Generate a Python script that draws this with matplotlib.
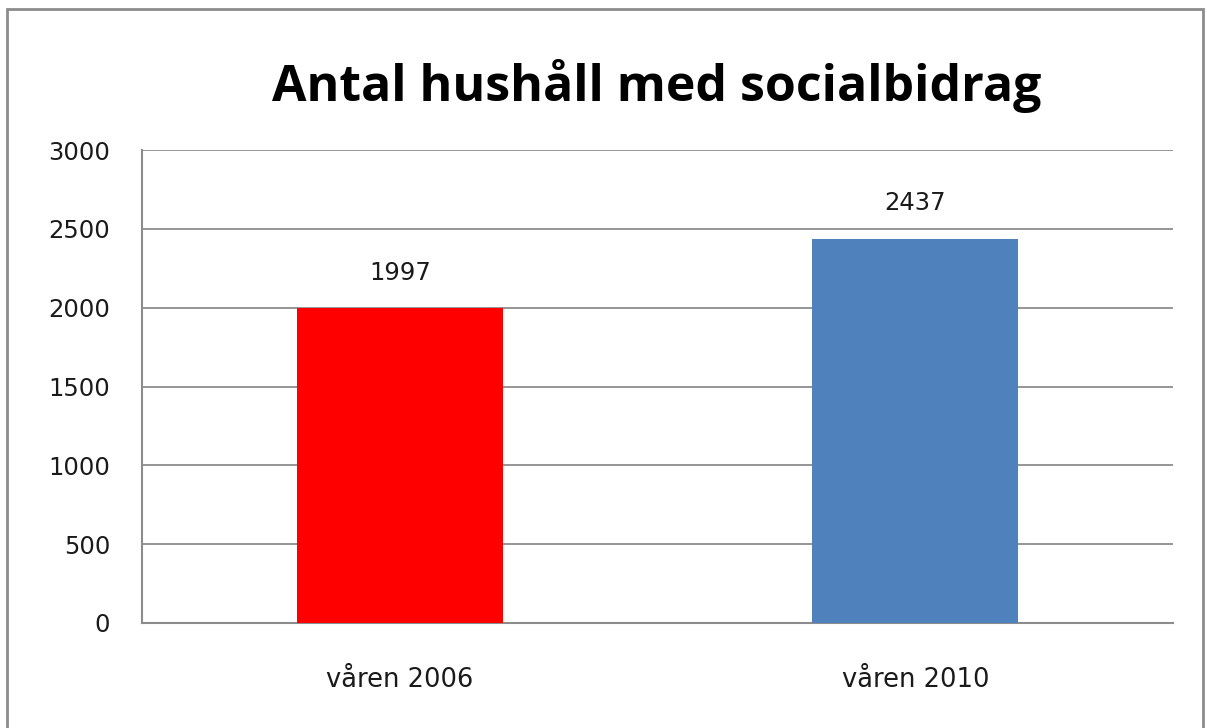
import matplotlib.pyplot as plt
from matplotlib.patches import Rectangle

categories = ['våren 2006', 'våren 2010']
values = [1997, 2437]
colors = ['#ff0000', '#4f81bd']
yticks = [0, 500, 1000, 1500, 2000, 2500, 3000]

plt.rcParams['font.family'] = ['DejaVu Sans']

fig = plt.figure(figsize=(12.07, 7.28), dpi=100)
ax = fig.add_axes([142 / 1207, 1 - 623 / 728, 1031 / 1207, 473 / 728])

# outer chart frame
fig.patches.append(Rectangle((7 / 1207, -0.01), 1196 / 1207, 1 - 9 / 728 + 0.01,
                             transform=fig.transFigure, fill=False,
                             edgecolor='#8c8c8c', linewidth=2))

x = range(len(categories))
ax.bar(x, values, width=0.4, color=colors, zorder=3)
for xi, v in zip(x, values):
    ax.annotate(str(v), (xi, v), xytext=(0, 17), textcoords='offset points',
                ha='center', va='bottom', fontsize=17.5, color='#1a1a1a')

ax.set_xlim(-0.5, 1.5)
ax.set_ylim(0, 3000)
ax.set_yticks(yticks)
ax.set_yticklabels([str(t) for t in yticks], fontsize=17.5, color='#1a1a1a')
ax.set_xticks(list(x))
ax.set_xticklabels(categories, fontsize=18.5, color='#1a1a1a')
ax.tick_params(axis='both', length=0)
ax.tick_params(axis='y', pad=23)
ax.tick_params(axis='x', pad=32)
ax.grid(axis='y', color='#8c8c8c', linewidth=1.3, zorder=0)

for side in ['top', 'right']:
    ax.spines[side].set_visible(False)
for side in ['left', 'bottom']:
    ax.spines[side].set_color('#8c8c8c')
    ax.spines[side].set_linewidth(1.5)

fig.text(657 / 1207, 1 - 86 / 728, 'Antal hushåll med socialbidrag',
         ha='center', va='center', fontsize=36, fontweight='bold',
         family=['Open Sans', 'DejaVu Sans'], color='#000000')

fig.savefig('out.png', dpi=100)
